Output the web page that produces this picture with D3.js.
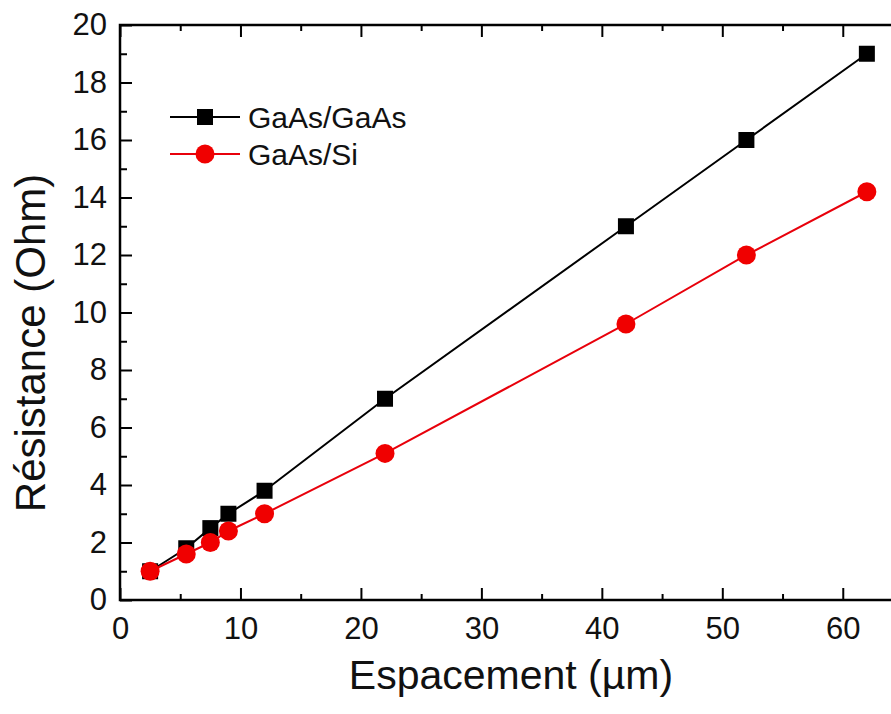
<!DOCTYPE html>
<html><head><meta charset="utf-8">
<script src="https://cdn.jsdelivr.net/npm/d3@7/dist/d3.min.js"></script>
<style>html,body{margin:0;padding:0;background:#fff;overflow:hidden}svg{display:block}</style>
</head><body>
<script>
const xValues = [2.5, 5.5, 7.5, 9, 12, 22, 42, 52, 62];
const gaasGaas = [1, 1.8, 2.5, 3, 3.8, 7, 13, 16, 19];
const gaasSi = [1, 1.6, 2, 2.4, 3, 5.1, 9.6, 12, 14.2];
const seriesNames = ["GaAs/GaAs", "GaAs/Si"];
const xTicks = [0, 10, 20, 30, 40, 50, 60];
const yTicks = [0, 2, 4, 6, 8, 10, 12, 14, 16, 18, 20];

const W = 891, H = 714;
const L = 120, R = 903, T = 25, B = 600;
const font = "'Liberation Sans', Arial, sans-serif";

const svg = d3.select("body").append("svg").attr("width", W).attr("height", H);
const x = d3.scaleLinear().domain([0, 65]).range([L, R]);
const y = d3.scaleLinear().domain([0, 20]).range([B, T]);

const minorX = d3.range(5, 65, 10);
const minorY = d3.range(1, 20, 2);

function styleTicks(g) {
  g.select(".domain").remove();
  g.selectAll("line").attr("stroke", "#000").attr("stroke-width", 2);
}
function styleAxis(g) {
  styleTicks(g);
  g.selectAll("text").attr("font-family", font).attr("font-size", 31).attr("fill", "#111");
}

// bottom axis (ticks inward)
const gb = svg.append("g").attr("transform", `translate(0,${B})`)
  .call(d3.axisBottom(x).tickValues(xTicks).tickSizeInner(-12).tickSizeOuter(0).tickPadding(17).tickFormat(d3.format("d")));
styleAxis(gb);
svg.append("g").attr("transform", `translate(0,${B})`)
  .call(d3.axisBottom(x).tickValues(minorX).tickSize(-6).tickFormat("")).call(styleTicks);

// top axis
svg.append("g").attr("transform", `translate(0,${T})`)
  .call(d3.axisTop(x).tickValues(xTicks).tickSize(-12).tickFormat("")).call(styleTicks);
svg.append("g").attr("transform", `translate(0,${T})`)
  .call(d3.axisTop(x).tickValues(minorX).tickSize(-6).tickFormat("")).call(styleTicks);

// left axis
const gl = svg.append("g").attr("transform", `translate(${L},0)`)
  .call(d3.axisLeft(y).tickValues(yTicks).tickSizeInner(-12).tickSizeOuter(0).tickPadding(13).tickFormat(d3.format("d")));
styleAxis(gl);
svg.append("g").attr("transform", `translate(${L},0)`)
  .call(d3.axisLeft(y).tickValues(minorY).tickSize(-7).tickFormat("")).call(styleTicks);

// right axis
svg.append("g").attr("transform", `translate(${R},0)`)
  .call(d3.axisRight(y).tickValues(yTicks).tickSize(-12).tickFormat("")).call(styleTicks);

// frame
svg.append("rect").attr("x", L).attr("y", T).attr("width", R - L).attr("height", B - T)
  .attr("fill", "none").attr("stroke", "#000").attr("stroke-width", 2.5);

const line = d3.line().x(d => x(d[0])).y(d => y(d[1]));
const blackData = xValues.map((v, i) => [v, gaasGaas[i]]);
const redData = xValues.map((v, i) => [v, gaasSi[i]]);

svg.append("path").datum(blackData).attr("d", line).attr("fill", "none").attr("stroke", "#000").attr("stroke-width", 2);
svg.append("path").datum(redData).attr("d", line).attr("fill", "none").attr("stroke", "#e8000b").attr("stroke-width", 2);

const sq = 16;
svg.selectAll(".sq").data(blackData).enter().append("rect")
  .attr("x", d => x(d[0]) - sq / 2).attr("y", d => y(d[1]) - sq / 2)
  .attr("width", sq).attr("height", sq).attr("fill", "#000");
svg.selectAll(".ci").data(redData).enter().append("circle")
  .attr("cx", d => x(d[0])).attr("cy", d => y(d[1])).attr("r", 9.5).attr("fill", "#f00000");

// legend
const lg = svg.append("g");
const legendRows = [{ name: seriesNames[0], color: "#000", shape: "sq", yy: 117 },
                    { name: seriesNames[1], color: "#e8000b", shape: "ci", yy: 154 }];
legendRows.forEach(r => {
  lg.append("line").attr("x1", 170).attr("x2", 240).attr("y1", r.yy).attr("y2", r.yy)
    .attr("stroke", r.color).attr("stroke-width", 2);
  if (r.shape === "sq") lg.append("rect").attr("x", 205 - 8).attr("y", r.yy - 8).attr("width", 16).attr("height", 16).attr("fill", "#000");
  else lg.append("circle").attr("cx", 205).attr("cy", r.yy).attr("r", 9.5).attr("fill", "#f00000");
  lg.append("text").attr("x", 248).attr("y", r.yy).attr("dy", "0.35em").attr("font-family", font)
    .attr("font-size", 30).attr("fill", "#111").text(r.name);
});

// axis titles
svg.append("text").attr("x", 511).attr("y", 689).attr("text-anchor", "middle")
  .attr("font-family", font).attr("font-size", 41).attr("fill", "#111").text("Espacement (µm)");
svg.append("text").attr("transform", `translate(45,343) rotate(-90)`).attr("text-anchor", "middle")
  .attr("font-family", font).attr("font-size", 42).attr("fill", "#111").text("Résistance (Ohm)");
</script>
</body></html>
